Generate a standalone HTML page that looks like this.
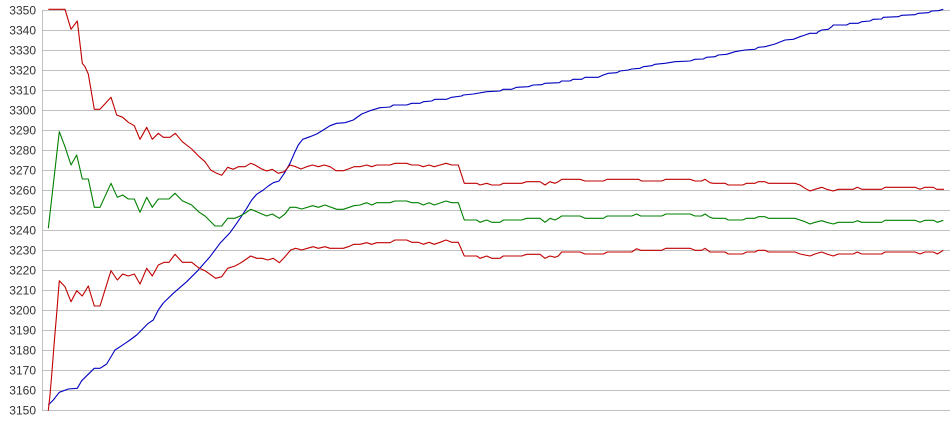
<!DOCTYPE html>
<html><head><meta charset="utf-8"><style>
html,body{margin:0;padding:0;background:#fff;}
svg{display:block;}
text{font-family:"Liberation Sans",Arial,sans-serif;font-size:12px;fill:#333;}
</style></head><body>
<svg width="950" height="435" viewBox="0 0 950 435" xmlns="http://www.w3.org/2000/svg">
<g stroke="#c0c0c0" stroke-width="1" shape-rendering="crispEdges">
<line x1="43" y1="10.5" x2="950" y2="10.5"/>
<line x1="43" y1="30.5" x2="950" y2="30.5"/>
<line x1="43" y1="50.5" x2="950" y2="50.5"/>
<line x1="43" y1="70.5" x2="950" y2="70.5"/>
<line x1="43" y1="90.5" x2="950" y2="90.5"/>
<line x1="43" y1="110.5" x2="950" y2="110.5"/>
<line x1="43" y1="130.5" x2="950" y2="130.5"/>
<line x1="43" y1="150.5" x2="950" y2="150.5"/>
<line x1="43" y1="170.5" x2="950" y2="170.5"/>
<line x1="43" y1="190.5" x2="950" y2="190.5"/>
<line x1="43" y1="210.5" x2="950" y2="210.5"/>
<line x1="43" y1="230.5" x2="950" y2="230.5"/>
<line x1="43" y1="250.5" x2="950" y2="250.5"/>
<line x1="43" y1="270.5" x2="950" y2="270.5"/>
<line x1="43" y1="290.5" x2="950" y2="290.5"/>
<line x1="43" y1="310.5" x2="950" y2="310.5"/>
<line x1="43" y1="330.5" x2="950" y2="330.5"/>
<line x1="43" y1="350.5" x2="950" y2="350.5"/>
<line x1="43" y1="370.5" x2="950" y2="370.5"/>
<line x1="43" y1="390.5" x2="950" y2="390.5"/>
<line x1="43" y1="410.5" x2="950" y2="410.5"/>
<line x1="42.5" y1="10" x2="42.5" y2="411"/>
</g>
<g text-anchor="end">
<text x="36" y="14.5">3350</text>
<text x="36" y="34.5">3340</text>
<text x="36" y="54.5">3330</text>
<text x="36" y="74.5">3320</text>
<text x="36" y="94.5">3310</text>
<text x="36" y="114.5">3300</text>
<text x="36" y="134.5">3290</text>
<text x="36" y="154.5">3280</text>
<text x="36" y="174.5">3270</text>
<text x="36" y="194.5">3260</text>
<text x="36" y="214.5">3250</text>
<text x="36" y="234.5">3240</text>
<text x="36" y="254.5">3230</text>
<text x="36" y="274.5">3220</text>
<text x="36" y="294.5">3210</text>
<text x="36" y="314.5">3200</text>
<text x="36" y="334.5">3190</text>
<text x="36" y="354.5">3180</text>
<text x="36" y="374.5">3170</text>
<text x="36" y="394.5">3160</text>
<text x="36" y="414.5">3150</text>
</g>
<g fill="none" stroke-width="1.1" stroke-linejoin="round">
<polyline stroke="#0000c0" points="48.3,405 53.3,400 59.3,392.3 68.3,389 77.3,388.3 81.7,380.7 94.3,368.3 100,368.3 106.7,364 115,350 121.7,345.7 130,340 136.7,335 148.3,323.3 153.3,320 158.3,310 163.3,303 173.3,293.3 186.7,281.7 196.7,271.7 210,256.7 220,243.3 230,232.7 236.7,223.3 241.7,216 246.7,208.3 251.7,200 256.7,194.3 263.3,190 268.3,186 273.3,182.7 279,181 284.3,173.3 290,163.3 294.3,153.3 298.3,145 302.7,139.3 310,136.7 316.7,134 323.3,130 330,125.7 336.7,123.3 345,122.7 353.3,120 361.7,114 370,110.7 380,107.7 390,107 393.3,105 406.7,105 411.7,103.3 420,103.3 423.3,101.7 431.7,101 435,99.3 446.7,99.3 451.7,97.3 461.7,96 463.3,95 473.3,94 486.7,91.7 500,91 503.3,89.3 511.7,89.3 516.7,87.3 528.3,86.7 533.3,85 541.7,84.7 545,83.3 559.3,82.7 561.7,81 570,81 573.3,79.3 581.7,79.3 585,77.3 598.3,77.3 603.3,75 608.3,73.3 616.7,72.7 620,71 628.3,70 631.7,69 640,68.3 643.3,66.7 651.7,65.7 655,64.3 665,63.3 675,61.7 690,61 695,59.3 703.3,59 706.7,57.3 715,56.7 718.3,55 726.7,54.3 735,51.7 745,50 755,49.3 758.3,47.3 765,46.7 775,44 785,40 793.3,39.3 800,36.7 805,35 810,33.3 816.7,33.3 818.3,31.7 821.7,30 828.3,29.3 831.7,26.7 833.3,25 846.7,25 850,23.3 858.3,23.3 861.7,21.7 870,21 873.3,19.3 881.7,19 883.3,17.3 898.3,16.7 901.7,15.3 915,14.7 918.3,13.3 928.3,12.7 931.7,11 938.3,10.7 943.3,9.3"/>
<polyline stroke="#c00000" points="48.3,9.3 65,9.3 71,29.3 77.3,21 82.3,63.3 85,66.7 88.3,74 94.3,109.3 100,109.3 111,97.3 116.7,115 122.7,117.3 128.3,122.3 134.3,125.7 140,139.3 146.7,127.3 152.3,139.3 158.3,133.3 163.3,137.3 170,137.3 175.3,133.3 182.3,141.7 191.7,149 199.3,156.7 205,161.7 210.7,170 216.7,173.3 221.7,175.3 227.7,167.3 233.3,169.3 238.3,166.7 245,166.7 250.7,163.3 255,165 261.7,169 266.7,171 272.3,169.3 278.3,173.3 284.3,171.7 290,165 295.7,166.7 301,169 306.7,166.7 312.7,165 318.3,166.7 324.3,165 330,166.7 336,170.7 343.3,170.7 348.3,169 354,166.7 360,166.7 366.7,165 371.7,166.7 376.7,165 390,165 395,163.3 406.7,163.3 411.7,165 418.3,165 423.3,166.7 429,165 434.3,166.7 440,165 446,163.3 451.7,165 458.3,165 464.3,183.3 476.7,183.3 480,185 486.7,183.3 491.7,185 500,185 503.3,183.3 521.7,183.3 526.7,181.7 540,181.7 545,185 550,181.7 555,183.3 558.3,181.7 561.7,179.3 580,179.3 585,181 603.3,181 607.3,179.3 638.3,179.3 641.7,181 661.7,181 666,179.3 690,179.3 695,181 701.7,181 705,179.3 710,182.7 713.3,183.3 725,183.3 728.3,185 742.7,185 746.7,183.3 755,183.3 758.3,181.7 765,181.7 768.3,183.3 795,183.3 800,185 805,188.3 810,191 815,189.3 821.7,187.3 826.7,189.3 833.3,191 838.3,189.3 853.3,189.3 857.3,187.3 861.7,189.3 881.7,189.3 885,187.3 915,187.3 920,189.3 925,187.3 933.3,187.3 936.7,189.3 944,189.3"/>
<polyline stroke="#008000" points="48.3,228.3 59.3,131.7 65,146.7 71,165 76.7,155 82.3,179 88.3,179 94.3,207.3 100,207.3 111,183.3 117.3,197.3 122.7,195 128.3,199 134.3,199 140,212.3 146.7,197.3 152.3,207.3 158.3,199 169,199 175,193.3 182.3,200.7 191.7,205 199.3,212.3 205,216 215,226 221.7,226 227.7,218.3 235,218.3 240,216 245,213.3 250.7,209.3 256.7,211.7 266.7,216 272.3,214 279.3,218.3 285,214 290,207.3 295.7,207.3 301.7,209 312.7,205.7 318.3,207.3 325,205 336.7,209.3 343.3,209.3 354,205.7 360,205 366.7,202.7 371.7,205 376.7,202.7 390,202.7 395,201 406.7,201 411.7,202.7 418.3,202.7 423.3,205 429,202.7 434.3,205 446,201 451.7,202.7 458.3,202.7 464.3,220 476.7,220 480,222.3 486.7,220 491.7,222.3 500,222.3 503.3,220 521.7,220 526.7,218.3 540,218.3 545,222.3 550,218.3 555,220 558.3,218.3 561.7,216 580,216 585,218.3 603.3,218.3 607.3,216 631.7,216 636.7,214 640.7,216 661.7,216 666,214 690,214 695,216 701.7,216 705,214 710,217.3 713.3,218.3 725,218.3 728.3,220 742.7,220 746.7,218.3 755,218.3 758.3,216.7 765,216.7 768.3,218.3 795,218.3 800,220 805,221.7 810,224 815,222.3 821.7,220.7 826.7,222.3 833.3,224 838.3,222.3 853.3,222.3 857.3,220.7 861.7,222.3 881.7,222.3 885,220.3 915,220.3 920,222.3 925,220.3 933.3,220.3 937.3,222.3 943.3,220.3"/>
<polyline stroke="#c00000" points="48.3,410.7 50,395 51.7,375 54.3,341.7 56.7,313.3 59.3,280.7 65,286.7 71,301.7 76.7,290.7 82.3,296 88.3,286 94.3,306 100,306 111,270.7 117.3,280 122.7,274 128.3,276 134.3,274 140,284 146.7,268.3 152.3,276 158.3,265 164.3,262.3 169,262.3 175,254.3 182.3,262.3 191.7,262.3 199.3,268.3 205,270.7 215.7,278.3 221.7,276.7 227.7,268.3 235,266 240,263.3 245,260 250.7,256 256.7,258.3 262.3,258.3 267.7,260 273.3,258.3 279.3,262.7 285,256.7 290.7,250 295.7,248.3 301.7,250 307.3,248.3 313.3,246.7 318.3,248.3 325,246.7 330,248.3 343.3,248.3 348.3,246.7 354,244.3 360,244.3 366.7,242.7 371.7,244.3 376.7,242.7 390,242.7 395,240 406.7,240 411.7,242.3 418.3,242.3 423.3,244.3 429,242.3 434.3,244.3 440,242.3 446,240 451.7,242.3 458.3,242.3 464.3,256 476.7,256 480,258.3 486.7,256 491.7,258.3 500,258.3 503.3,256 521.7,256 526.7,254.3 540,254.3 545,258.3 550,256 555,257.3 558.3,256 561.7,252 580,252 585,254 603.3,254 607.3,252 631.7,252 636.7,248.7 640.7,250.3 661.7,250.3 666,248.3 690,248.3 695,250.3 701.7,250.3 705,248.3 710,252 725,252 728.3,254 742.7,254 746.7,252 755,252 758.3,250.3 765,250.3 768.3,252 795,252 800,254 810,256 815,254 821.7,252 826.7,254 833.3,256 838.3,254 853.3,254 857.3,252 861.7,254 881.7,254 885,252 915,252 920,254 925,252 933.3,252 937.3,254 943.3,250.3"/>
</g>
</svg>
</body></html>
